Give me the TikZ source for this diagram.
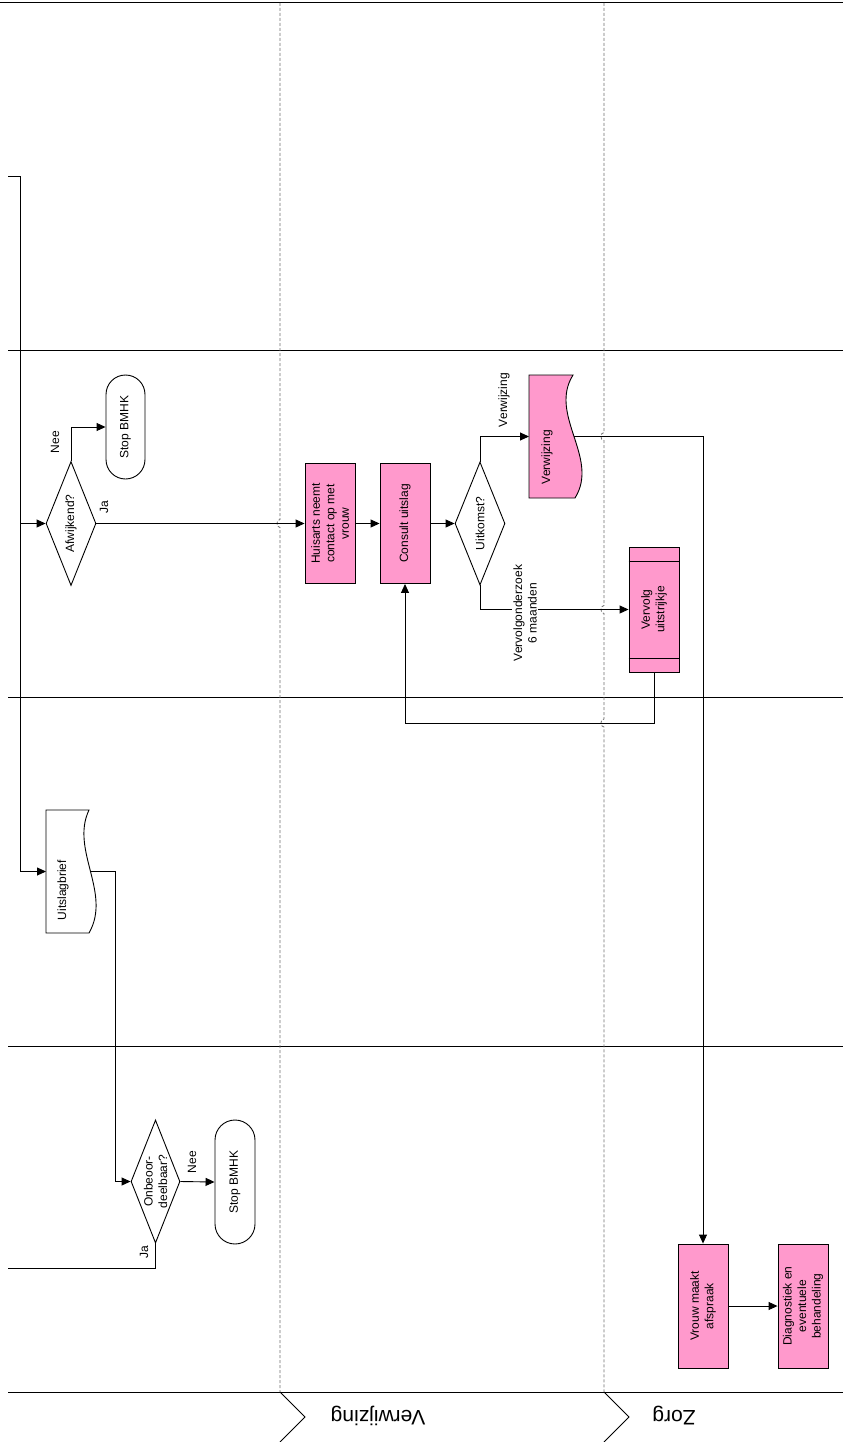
\documentclass[tikz,border=0pt]{standalone}
\usepackage{fontspec}
\setmainfont{Liberation Sans}
\usetikzlibrary{arrows.meta,shapes.geometric,calc}
\definecolor{pinkfill}{HTML}{FF99CC}
\definecolor{lanegray}{HTML}{6E6E6E}
\begin{document}
\begin{tikzpicture}[x=1pt,y=-1pt,line width=0.9pt,
  txt/.style={rotate=90,align=center,font=\fontsize{12}{14.5}\selectfont,inner sep=0pt},
  proc/.style={draw,fill=pinkfill,minimum width=50pt,minimum height=124pt,inner sep=0pt},
  dia/.style={draw,fill=white,diamond,minimum width=50pt,minimum height=124pt,inner sep=0pt},
  term/.style={draw,fill=white,rounded corners=19.5pt,minimum width=39pt,minimum height=104pt,inner sep=0pt},
  ghost/.style={inner sep=0pt,outer sep=0pt},
  arr/.style={-{Triangle[length=9pt,width=8pt]}},
  sepline/.style={line width=1pt},
  lanestyle/.style={dash pattern=on 3pt off 2pt,draw=lanegray,line width=0.8pt},
  lanelbl/.style={rotate=180,font=\fontsize{21}{24}\selectfont,inner sep=0pt},
  elbl/.style={rotate=90,align=center,font=\fontsize{12}{14.5}\selectfont,inner sep=1.5pt,fill=white}]
\useasboundingbox (0,0) rectangle (843,1442);

% phase separators
\draw[line width=1.4pt] (0,2.5) -- (843,2.5);
\draw[sepline] (8,350) -- (843,350);
\draw[sepline] (8,697) -- (843,697);
\draw[sepline] (8,1046) -- (843,1046);
\draw[sepline] (8,1392) -- (843,1392);

% lane dividers with jumps
\draw[lanestyle] (280,3) -- (280,519.5) to[out=180,in=180,looseness=1.3] (280,527.5) -- (280,1392);
\draw[lanestyle] (604,3) -- (604,432.5) to[out=180,in=180,looseness=1.3] (604,440.5)
  -- (604,605.5) to[out=180,in=180,looseness=1.3] (604,613.5)
  -- (604,719) to[out=180,in=180,looseness=1.3] (604,727) -- (604,1392);

% lane chevrons and labels
\draw[sepline] (280,1392) -- (305,1417) -- (280,1442);
\draw[sepline] (604,1392) -- (629,1417) -- (604,1442);
\node[lanelbl] (laneV) at (378,1416) {Verwijzing};
\node[lanelbl] (laneZ) at (674,1416) {Zorg};

% nodes
\node[dia] (afw) at (71,523.5) {};
\node[txt] (afwT) at (afw) {Afwijkend?};
\node[term] (stop1) at (125.5,427) {};
\node[txt] (stop1T) at (stop1) {Stop BMHK};
\node[proc,minimum height=120pt] (hui) at (330,523.5) {};
\node[txt] (huiT) at (hui) {Huisarts neemt\\contact op met\\vrouw};
\node[proc,minimum height=120pt] (con) at (405,523.5) {};
\node[txt] (conT) at (con) {Consult uitslag};
\node[dia,minimum height=123pt] (uit) at (480,523.5) {};
\node[txt] (uitT) at (uit) {Uitkomst?};

% Verwijzing document
\node[ghost,minimum width=44pt,minimum height=123pt] (verw) at (551,436.5) {};
\draw[fill=pinkfill] (verw.north west) -- (verw.north east)
  .. controls ($(verw.north east)+(-25,40)$) and ($(verw.north east)+(27,83)$) .. ($(verw.south east)+(2,0)$)
  -- (verw.south west) -- cycle;
\node[txt] (verwT) at (547,457) {Verwijzing};

% Vervolg uitstrijkje (predefined process)
\node[proc,minimum height=125pt] (verv) at (654,609.5) {};
\draw ($(verv.north west)+(0,15)$) -- ($(verv.north east)+(0,15)$);
\draw ($(verv.south west)+(0,-14)$) -- ($(verv.south east)+(0,-14)$);
\node[txt] (vervT) at (verv) {Vervolg\\uitstrijkje};

% Uitslagbrief document
\node[ghost,minimum width=43pt,minimum height=123pt] (brief) at (67.5,871.5) {};
\draw[fill=white] (brief.north west) -- (brief.north east)
  .. controls ($(brief.north east)+(-19,40)$) and ($(brief.north east)+(23,83)$) .. (brief.south east)
  -- (brief.south west) -- cycle;
\node[txt] (briefT) at (63,890) {Uitslagbrief};

\node[dia,minimum width=49pt,minimum height=123pt] (onb) at (155.5,1181.5) {};
\node[txt] (onbT) at (onb) {Onbeoor-\\deelbaar?};
\node[term,minimum width=40pt,minimum height=124pt,rounded corners=20pt] (stop2) at (235,1182) {};
\node[txt] (stop2T) at (stop2) {Stop BMHK};

\node[proc] (vrouw) at (703,1306) {};
\node[txt] (vrouwT) at (vrouw) {Vrouw maakt\\afspraak};
\node[proc] (diag) at (803,1306) {};
\node[txt] (diagT) at (diag) {Diagnostiek en\\eventuele\\behandeling};

% connectors
\coordinate (c0) at (8,176);
\coordinate (trunk) at (20,176);
\coordinate (c1) at (8,1268);
\draw[arr] (c0) -- (trunk) -- (trunk |- brief.west) -- (brief.west);
\draw[arr] (afw.west -| trunk) -- (afw.west);
\draw[arr] (afw.north) |- (stop1.west);
\draw[arr] (afw.east) -- (hui.west);
\draw[arr] (hui.east) -- (con.west);
\draw[arr] (con.east) -- (uit.west);
\draw[arr] (uit.north) |- (verw.west);
\draw[arr] (uit.south) |- (verv.west);
\draw[arr] (verv.south) -- ($(verv.south)+(0,50.5)$) -| (con.south);
\draw[arr] ($(verw.east)+(1,0)$) -| (vrouw.north);
\draw[arr] ($(brief.east)+(1.5,0)$) -- (115,871.5) |- (onb.west);
\draw[arr] (onb.east) -- (stop2.west);
\draw (onb.south) |- (c1);
\draw[arr] (vrouw.east) -- (diag.west);

% connector labels
\node[txt] (lNee1) at (55,442) {Nee};
\node[txt] (lJa1) at (104,507) {Ja};
\node[txt] (lVerw) at (504,400) {Verwijzing};
\node[elbl] (lVerv) at (525,613) {Vervolgonderzoek\\6 maanden};
\node[txt] (lNee2) at (192,1162) {Nee};
\node[txt] (lJa2) at (144,1252) {Ja};
\end{tikzpicture}
\end{document}
